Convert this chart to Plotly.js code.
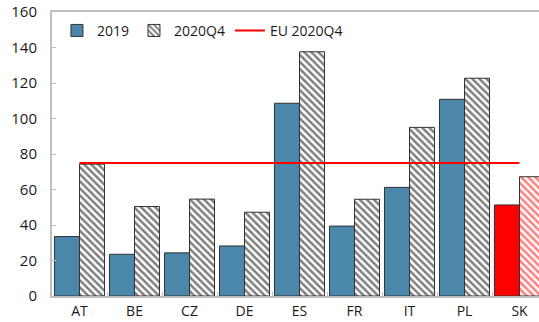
<!DOCTYPE html>
<html><head><meta charset="utf-8">
<script src="https://cdn.plot.ly/plotly-3.0.1.min.js"></script>
<style>html,body{margin:0;padding:0;overflow:hidden;width:539px;height:322px;background:#fff}</style>
</head><body><div id="chart"></div>
<script>
const categories = ["AT","BE","CZ","DE","ES","FR","IT","PL","SK"];
const values2019 = [33.5, 23.5, 24.3, 28.2, 108.6, 39.4, 61.2, 110.8, 51.3];
const values2020Q4 = [74.3, 50.4, 54.6, 47.2, 137.6, 54.5, 95.0, 122.7, 67.2];
const euValue = 75;
const euLine = categories.map(() => euValue);

const blue = "#4a87aa", red = "#ff0000";
const solidColors = categories.map(c => c === "SK" ? red : blue);
const hatchColors = categories.map(c => c === "SK" ? red : "#000000");

const traces = [
  {type:"bar", name:"2019", x:categories, y:values2019,
   marker:{color:solidColors, line:{color:"#333333", width:1}}},
  {type:"bar", name:"2020Q4", x:categories, y:values2020Q4,
   marker:{color:"#ffffff", line:{color:"#333333", width:1},
     pattern:{shape:"\\", fgcolor:hatchColors, bgcolor:"#ffffff", size:5, solidity:0.5, fillmode:"overlay"}}},
  {type:"scatter", mode:"lines", name:"EU 2020Q4", x:categories, y:euLine,
   line:{color:red, width:2}}
];

const layout = {
  width:600, height:340,
  margin:{l:52, r:53, t:12, b:44},
  font:{family:"Open Sans, Noto Sans, sans-serif", size:14, color:"#1a1a1a"},
  barmode:"group", bargap:0.09, bargroupgap:0,
  showlegend:true,
  legend:{orientation:"h", x:0.01, y:0.99, xanchor:"left", yanchor:"top",
    bgcolor:"rgba(0,0,0,0)", font:{size:14}, itemwidth:30, traceorder:"normal"},
  xaxis:{showline:true, linecolor:"#bfbfbf", linewidth:2, mirror:true,
    ticks:"inside", tickson:"boundaries", ticklen:4, tickcolor:"#bfbfbf",
    showgrid:false, zeroline:false, ticklabelstandoff:1, tickfont:{size:14}},
  yaxis:{range:[0,160], dtick:20, showline:true, linecolor:"#bfbfbf", linewidth:2, mirror:true,
    ticks:"inside", ticklen:4, tickcolor:"#bfbfbf",
    showgrid:false, zeroline:false, ticklabelstandoff:10, tickfont:{size:15}},
  plot_bgcolor:"#fff", paper_bgcolor:"#fff"
};
Plotly.newPlot("chart", traces, layout, {displayModeBar:false, staticPlot:true});
</script></body></html>
